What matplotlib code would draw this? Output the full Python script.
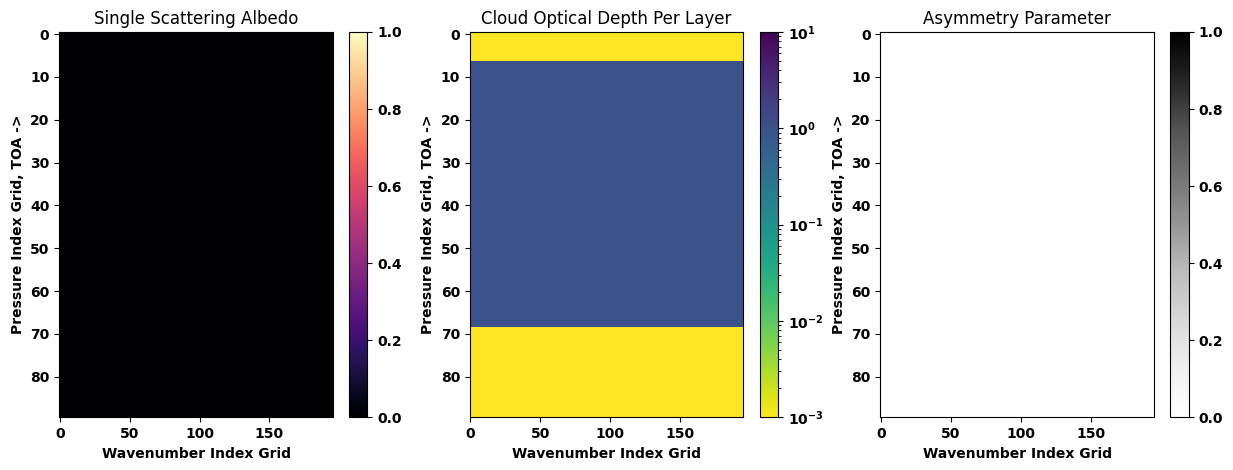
import numpy as np
import matplotlib
matplotlib.use("Agg")
import matplotlib.pyplot as plt
from matplotlib.colors import LogNorm

n_pressure = 90
n_wave = 196
cloud_top = 7
cloud_bottom = 68
cloud_tau = 1.0
clear_tau = 1e-3
ssa_value = 0.0
g_value = 0.0

ssa = np.full((n_pressure, n_wave), ssa_value)
tau = np.full((n_pressure, n_wave), clear_tau)
tau[cloud_top:cloud_bottom + 1, :] = cloud_tau
asym = np.full((n_pressure, n_wave), g_value)

plt.rcParams['font.weight'] = 'bold'
plt.rcParams['axes.labelweight'] = 'bold'

fig = plt.figure(figsize=(12.33, 4.7), dpi=100)
lefts = [0.048, 0.381, 0.714]
w = 0.222
for i, (data, title, cmap, norm) in enumerate([
        (ssa, "Single Scattering Albedo", "magma", None),
        (tau, "Cloud Optical Depth Per Layer", "viridis_r", LogNorm(vmin=1e-3, vmax=10)),
        (asym, "Asymmetry Parameter", "Greys", None)]):
    ax = fig.add_axes([lefts[i], 0.112, w, 0.82])
    cax = fig.add_axes([lefts[i] + w + 0.013, 0.112, 0.015, 0.82])
    if norm is None:
        im = ax.imshow(data, aspect='auto', cmap=cmap, vmin=0, vmax=1, interpolation='nearest')
    else:
        im = ax.imshow(data, aspect='auto', cmap=cmap, norm=norm, interpolation='nearest')
    ax.set_title(title, fontweight='normal')
    ax.set_xlabel("Wavenumber Index Grid")
    ax.set_ylabel("Pressure Index Grid, TOA ->")
    ax.set_xticks([0, 50, 100, 150])
    ax.set_yticks(range(0, 90, 10))
    fig.colorbar(im, cax=cax)

fig.savefig("out.png", dpi=100)
